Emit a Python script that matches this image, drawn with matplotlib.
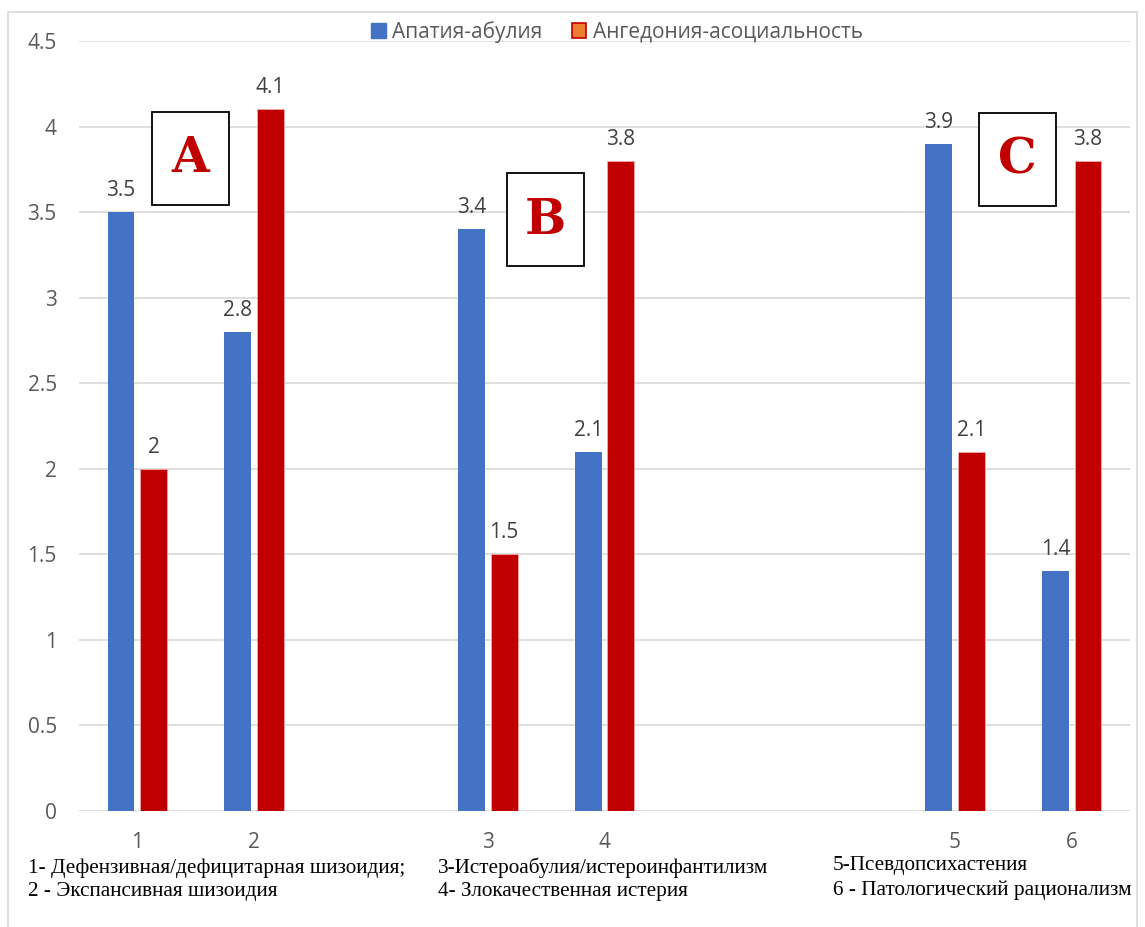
import numpy as np
import matplotlib.pyplot as plt
from matplotlib.patches import Rectangle, Patch

# data
slots = [0, 1, 3, 4, 7, 8]          # positions on the category axis (gaps between groups)
labels = ['1', '2', '3', '4', '5', '6']
apathy = [3.5, 2.8, 3.4, 2.1, 3.9, 1.4]
anhedonia = [2.0, 4.1, 1.5, 3.8, 2.1, 3.8]
series_names = ['Апатия-абулия', 'Ангедония-асоциальность']
group_letters = ['A', 'B', 'C']
notes = [
    ['1- Дефензивная/дефицитарная шизоидия;', '2 - Экспансивная шизоидия'],
    ['3-Истероабулия/истероинфантилизм', '4- Злокачественная истерия'],
    ['5-Псевдопсихастения', '6 - Патологический рационализм'],
]

blue = '#4472C4'
red = '#C00000'
grey = '#595959'

plt.rcParams['font.family'] = ['Open Sans', 'DejaVu Sans']

W, H = 1145, 927
fig = plt.figure(figsize=(W / 100, H / 100), dpi=100)
ax = fig.add_axes([79 / W, 1 - 811 / H, (1130 - 79) / W, (811 - 41) / H])

# chart border
fig.patches.append(Rectangle((8 / W, -0.01), (1137 - 8) / W, 1 - 12 / H + 0.01,
                             transform=fig.transFigure, fill=False,
                             edgecolor='#D9D9D9', linewidth=1.2))

x = np.array(slots, dtype=float)
bw = 0.23
off = 0.14
b1 = ax.bar(x - off, apathy, bw, color=blue, zorder=3)
b2 = ax.bar(x + off, anhedonia, bw, color=red, edgecolor='#F0A8A8',
            linewidth=0.6, zorder=3)

for bars, vals in [(b1, apathy), (b2, anhedonia)]:
    for r, v in zip(bars, vals):
        ax.annotate(f'{v:g}', (r.get_x() + r.get_width() / 2, v),
                    xytext=(0, 8), textcoords='offset points',
                    ha='center', va='bottom', fontsize=15, color='#404040')

ax.set_xlim(-0.5, 8.5)
ax.set_ylim(0, 4.5)
ax.set_yticks(np.arange(0, 4.51, 0.5))
ax.set_yticklabels(['0', '0.5', '1', '1.5', '2', '2.5', '3', '3.5', '4', '4.5'])
ax.set_xticks(x)
ax.set_xticklabels(labels)
ax.tick_params(axis='both', length=0, labelsize=15, labelcolor=grey)
ax.tick_params(axis='y', pad=16)
ax.tick_params(axis='x', pad=15)
ax.grid(axis='y', color='#D9D9D9', linewidth=1.2, zorder=0)
ax.set_axisbelow(True)
for s in ax.spines.values():
    s.set_visible(False)

# legend
handles = [Patch(facecolor=blue, edgecolor=blue),
           Patch(facecolor='#ED7D31', edgecolor=red, linewidth=1.2)]
fig.legend(handles, series_names, loc='center', bbox_to_anchor=(617 / W, 1 - 32 / H),
           ncol=2, frameon=False, fontsize=15, handlelength=0.7, handleheight=0.7,
           handletextpad=0.3, columnspacing=1.4, labelcolor=grey)

# boxed group letters
boxes = [(152, 112), (507, 173), (979, 113)]
for (bx, by), letter in zip(boxes, group_letters):
    fig.patches.append(Rectangle((bx / W, 1 - (by + 93) / H), 77 / W, 93 / H,
                                 transform=fig.transFigure, facecolor='white',
                                 edgecolor='black', linewidth=1.3, zorder=5))
    fig.text((bx + 38.5) / W, 1 - (by + 47) / H, letter, ha='center', va='center',
             fontsize=35, fontweight='bold', color=red, family='DejaVu Serif', zorder=6)

# notes under the axis (baselines)
note_x = [28, 438, 833]
note_y = [(873, 896), (873, 896), (870, 895)]
for nx, ny, lines in zip(note_x, note_y, notes):
    for yy, line in zip(ny, lines):
        fig.text(nx / W, 1 - yy / H, line, ha='left', va='baseline', fontsize=15.3,
                 color='black', family='Liberation Serif')

fig.savefig('out.png', dpi=100)
